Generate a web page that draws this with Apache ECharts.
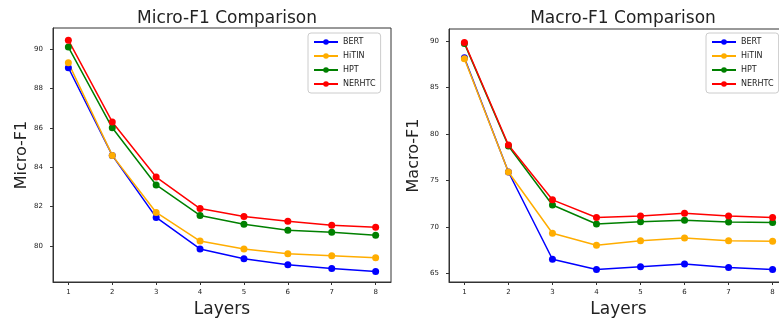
<!DOCTYPE html>
<html><head><meta charset="utf-8">
<script src="https://cdn.jsdelivr.net/npm/echarts@6/dist/echarts.min.js"></script>
<style>html,body{margin:0;padding:0;background:#fff}#c{width:779px;height:320px}</style>
</head><body><div id="c"></div>
<script>
const layers = [1, 2, 3, 4, 5, 6, 7, 8];
const seriesNames = ['BERT', 'HiTIN', 'HPT', 'NERHTC'];
const colors = ['#0000ff', '#ffad00', '#008000', '#ff0000'];

const microBERT   = [89.05, 84.6, 81.45, 79.85, 79.35, 79.05, 78.85, 78.7];
const microHiTIN  = [89.3, 84.6, 81.7, 80.25, 79.85, 79.6, 79.5, 79.4];
const microHPT    = [90.1, 86.0, 83.1, 81.55, 81.1, 80.8, 80.7, 80.55];
const microNERHTC = [90.45, 86.3, 83.5, 81.9, 81.5, 81.25, 81.05, 80.95];

const macroBERT   = [88.2, 75.9, 66.5, 65.4, 65.7, 66.0, 65.6, 65.4];
const macroHiTIN  = [88.1, 75.9, 69.3, 68.0, 68.5, 68.8, 68.5, 68.45];
const macroHPT    = [89.75, 78.7, 72.35, 70.3, 70.55, 70.7, 70.5, 70.45];
const macroNERHTC = [89.85, 78.8, 72.9, 71.0, 71.15, 71.45, 71.15, 71.0];

const microTicks = [80, 82, 84, 86, 88, 90];
const macroTicks = [65, 70, 75, 80, 85, 90];

const microData = [microBERT, microHiTIN, microHPT, microNERHTC];
const macroData = [macroBERT, macroHiTIN, macroHPT, macroNERHTC];

const font = 'DejaVu Sans';

function xAxis(idx) {
  return {
    type: 'value', gridIndex: idx, min: 0.65, max: 8.35,
    name: 'Layers', nameLocation: 'middle', nameGap: 17,
    nameTextStyle: { fontSize: 17, color: '#222', fontFamily: font },
    axisLine: { show: true, lineStyle: { color: '#333', width: 1 } },
    axisTick: { show: true, length: 3, customValues: layers, lineStyle: { color: '#333' } },
    axisLabel: { customValues: layers, fontSize: 7, color: '#222', fontFamily: font, margin: 7 },
    splitLine: { show: false }
  };
}
function yAxis(idx, min, max, ticks, name, gap) {
  return {
    type: 'value', gridIndex: idx, min: min, max: max,
    name: name, nameLocation: 'middle', nameGap: gap,
    nameTextStyle: { fontSize: 16, color: '#222', fontFamily: font },
    axisLine: { show: true, lineStyle: { color: '#333', width: 1 } },
    axisTick: { show: true, length: 3, customValues: ticks, lineStyle: { color: '#333' } },
    axisLabel: { customValues: ticks, fontSize: 7, color: '#222', fontFamily: font, margin: 10 },
    splitLine: { show: false }
  };
}

const series = [];
[microData, macroData].forEach((group, gi) => {
  group.forEach((vals, si) => {
    series.push({
      name: seriesNames[si], type: 'line',
      xAxisIndex: gi, yAxisIndex: gi,
      data: layers.map((x, i) => [x, vals[i]]),
      symbol: 'circle', symbolSize: 7,
      itemStyle: { color: colors[si] },
      lineStyle: { color: colors[si], width: 1.5 },
      emphasis: { disabled: true },
      animation: false
    });
  });
});

function legend(left, top) {
  return {
    data: seriesNames, orient: 'vertical', left: left, top: top,
    itemWidth: 24, itemHeight: 7, itemGap: 6,
    textStyle: { fontSize: 8, color: '#222', fontFamily: font },
    backgroundColor: '#fff', borderColor: '#ccc', borderWidth: 1, borderRadius: 3,
    padding: [5, 5, 5, 5]
  };
}

const chart = echarts.init(document.getElementById('c'), null, { renderer: 'canvas' });
chart.setOption({
  animation: false,
  backgroundColor: '#fff',
  title: [
    { text: 'Micro-F1 Comparison', left: 222, top: 5, textAlign: 'center',
      textStyle: { fontSize: 17, fontWeight: 'normal', color: '#222', fontFamily: font } },
    { text: 'Macro-F1 Comparison', left: 618, top: 5, textAlign: 'center',
      textStyle: { fontSize: 17, fontWeight: 'normal', color: '#222', fontFamily: font } }
  ],
  legend: [legend(308, 33), legend(706, 33)],
  grid: [
    { left: 53, right: 388, top: 28, bottom: 38, show: true, borderColor: '#333', borderWidth: 1,
      containLabel: false, outerBoundsMode: 'none' },
    { left: 449, right: -9, top: 29, bottom: 38, show: true, borderColor: '#333', borderWidth: 1,
      containLabel: false, outerBoundsMode: 'none' }
  ],
  xAxis: [xAxis(0), xAxis(1)],
  yAxis: [
    yAxis(0, 78.17, 91.07, microTicks, 'Micro-F1', 23),
    yAxis(1, 64.05, 91.3, macroTicks, 'Macro-F1', 27)
  ],
  series: series
});
</script></body></html>
